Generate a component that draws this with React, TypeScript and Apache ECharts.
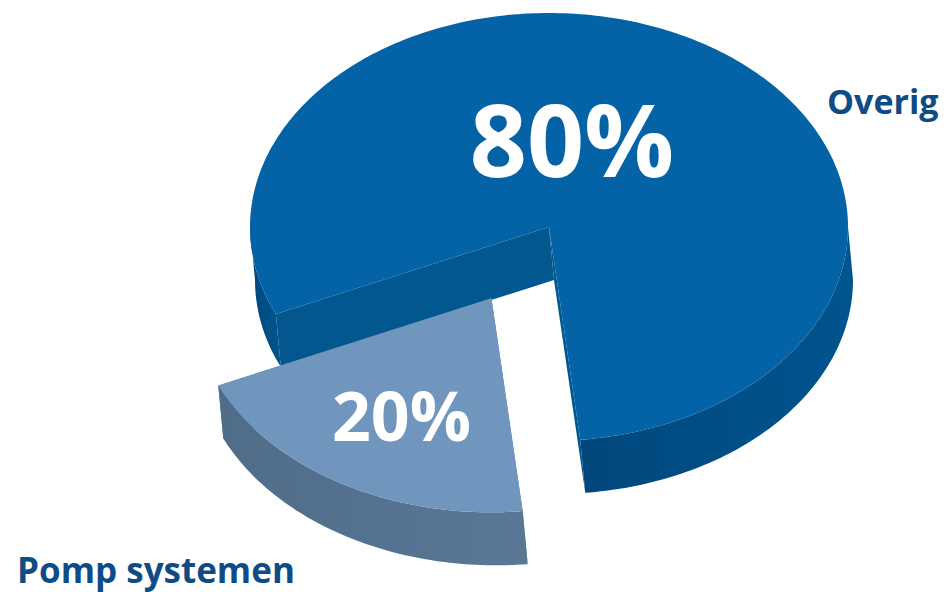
import React, { useEffect, useRef } from "react";
import * as echarts from "echarts";

// ---- data ----
const categories = ["Overig", "Pomp systemen"];
const values = [80, 20];
const percentLabels = ["80%", "20%"];

// ---- geometry / style (not data) ----
const GEOM = {
  cx: 549,
  cy: 227,
  rx: 299,
  ry: 214,
  depth: 53,
  skew: 5,
  startAngle: 156,
};
const EXPLODE = [0, 0.385];
const SLICE_STYLE = [
  {
    top: "#0363A6",
    sideL: "#00477B",
    sideR: "#01548E",
    wall: "#02578F",
    pctDx: 23,
    pctDy: -89,
    pctSize: 100,
    nameX: 827,
    nameY: 101,
    nameSize: 34,
  },
  {
    top: "#7096BE",
    sideL: "#4F6C89",
    sideR: "#5A7896",
    wall: "#5A7CA0",
    pctDx: -90,
    pctDy: 116,
    pctSize: 68,
    nameX: 17,
    nameY: 569,
    nameSize: 35,
  },
];
const NAME_COLOR = "#0F4C86";
const FONT = '"Open Sans", "Noto Sans", sans-serif';

const total = values.reduce((a, b) => a + b, 0);

function renderItem(params: any, api: any) {
  const i = params.dataIndex;
  const v = api.value(1) as number;
  let start = GEOM.startAngle;
  for (let k = 0; k < i; k++) start += (values[k] / total) * 360;
  const end = start + (v / total) * 360;
  const midRad = (((start + end) / 2) * Math.PI) / 180;
  const e = EXPLODE[i];
  const cx = GEOM.cx + e * GEOM.rx * Math.cos(midRad);
  const cy = GEOM.cy + e * GEOM.ry * Math.sin(midRad);
  const d = GEOM.depth;
  const sk = GEOM.skew;
  const pt = (deg: number, down: boolean) => {
    const r = (deg * Math.PI) / 180;
    return [
      cx + GEOM.rx * Math.cos(r) + (down ? sk : 0),
      cy + GEOM.ry * Math.sin(r) + (down ? d : 0),
    ];
  };
  const arc = (a: number, b: number, down: boolean) => {
    const pts: number[][] = [];
    const n = Math.max(6, Math.ceil(Math.abs(b - a) / 1));
    for (let s = 0; s <= n; s++) pts.push(pt(a + ((b - a) * s) / n, down));
    return pts;
  };
  const st = SLICE_STYLE[i];
  const children: any[] = [];

  // radial walls
  const center = [cx, cy];
  const centerDown = [cx + sk, cy + d];
  [start, end].forEach((ang) => {
    children.push({
      type: "polygon",
      shape: { points: [center, pt(ang, false), pt(ang, true), centerDown] },
      style: { fill: st.wall },
    });
  });

  // outer side (front-facing part only)
  for (let k = -1; k <= 2; k++) {
    const a = Math.max(start, k * 360);
    const b = Math.min(end, k * 360 + 180);
    if (b > a) {
      const topPts = arc(a, b, false);
      const botPts = arc(a, b, true).reverse();
      children.push({
        type: "polygon",
        shape: { points: topPts.concat(botPts) },
        style: {
          fill: {
            type: "linear",
            x: 0,
            y: 0,
            x2: 1,
            y2: 0,
            colorStops: [
              { offset: 0, color: st.sideL },
              { offset: 1, color: st.sideR },
            ],
          },
        },
      });
    }
  }

  // top face
  children.push({
    type: "polygon",
    shape: { points: [center].concat(arc(start, end, false)) },
    style: { fill: st.top },
  });

  // percentage label
  children.push({
    type: "text",
    style: {
      text: percentLabels[i],
      x: cx + st.pctDx,
      y: cy + st.pctDy,
      fill: "#ffffff",
      fontFamily: FONT,
      fontWeight: "bold",
      fontSize: st.pctSize,
      align: "center",
      verticalAlign: "middle",
    },
  });

  // category name
  children.push({
    type: "text",
    style: {
      text: categories[i],
      x: st.nameX,
      y: st.nameY,
      fill: NAME_COLOR,
      fontFamily: FONT,
      fontWeight: "bold",
      fontSize: st.nameSize,
      align: "left",
      verticalAlign: "middle",
    },
  });

  return { type: "group", children };
}

export default function App() {
  const ref = useRef<HTMLDivElement>(null);
  useEffect(() => {
    if (!ref.current) return;
    const chart = echarts.init(ref.current, null, { renderer: "svg" });
    chart.setOption({
      animation: false,
      backgroundColor: "#ffffff",
      series: [
        {
          type: "custom",
          coordinateSystem: "none",
          renderItem,
          data: categories.map((c, i) => [i, values[i]]),
        },
      ],
    });
    return () => chart.dispose();
  }, []);
  return (
    <div
      ref={ref}
      style={{ position: "absolute", left: 0, top: 0, width: 951, height: 592 }}
    />
  );
}
